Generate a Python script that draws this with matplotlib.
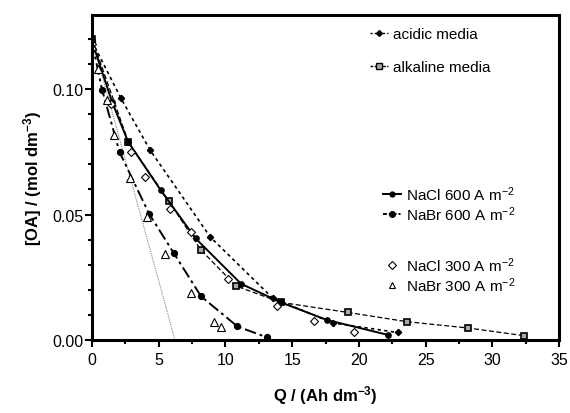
import matplotlib
matplotlib.use("Agg")
import matplotlib.pyplot as plt
from matplotlib.lines import Line2D
from matplotlib.ticker import MultipleLocator

plt.rcParams['font.family'] = ['Liberation Sans', 'DejaVu Sans']
plt.rcParams['mathtext.default'] = 'regular'

# Data
acid_q = [0, 2.15, 4.35, 8.87, 13.54, 18.04, 22.9]
acid_c = [0.119, 0.0965, 0.0757, 0.041, 0.0167, 0.0068, 0.003]

alk_q = [0, 2.72, 5.77, 8.16, 10.8, 14.15, 19.17, 23.6, 28.16, 32.4]
alk_c = [0.120, 0.079, 0.0552, 0.0359, 0.0215, 0.015, 0.011, 0.0073, 0.0048, 0.0017]

nacl600_q = [0, 1.5, 2.7, 5.15, 7.76, 11.17, 14.15, 17.6, 22.2]
nacl600_c = [0.119, 0.095, 0.079, 0.0597, 0.0405, 0.0224, 0.015, 0.008, 0.002]

nabr600_q = [0, 0.75, 2.07, 4.28, 6.12, 8.17, 10.9, 13.14]
nabr600_c = [0.119, 0.0998, 0.0748, 0.0503, 0.0347, 0.0174, 0.0054, 0.001]

nacl300_q = [0, 1.4, 2.9, 3.97, 5.88, 7.4, 10.2, 13.9, 16.64, 19.6]
nacl300_c = [0.118, 0.094, 0.0748, 0.0648, 0.052, 0.043, 0.0244, 0.0137, 0.0077, 0.0033]

nabr300_q = [0, 0.45, 1.15, 1.68, 2.82, 4.1, 5.47, 7.42, 9.16, 9.67]
nabr300_c = [0.117, 0.108, 0.0955, 0.0815, 0.0645, 0.049, 0.0342, 0.0186, 0.0072, 0.0053]

theo_q = [0, 6.22]
theo_c = [0.120, 0.0]

fig = plt.figure(figsize=(5.7, 4.14), dpi=100)
ax = fig.add_axes([92/570, 73/414, (559-92)/570, (341-16)/414])

acid_ls = (0, (2, 2))
alk_ls = (0, (4, 2))
nabr_ls = (0, (6, 2, 1.5, 2))

ax.plot(theo_q, theo_c, color='#888888', lw=0.8, ls=(0, (1, 1)))
ax.plot(acid_q, acid_c, color='black', lw=1.2, ls=acid_ls, marker='D', ms=3.2)
ax.plot(alk_q, alk_c, color='black', lw=0.9, ls=alk_ls, marker='s', ms=5,
        mfc='#aaaaaa', mec='black', mew=1.2)
ax.plot(nacl600_q, nacl600_c, color='black', lw=1.4, ls='-', marker='o', ms=3.8)
ax.plot(nabr600_q, nabr600_c, color='black', lw=1.4, ls=nabr_ls, marker='o', ms=4.2)
ax.plot(nacl300_q, nacl300_c, ls='none', marker='D', ms=4.5, mfc='white', mec='black', mew=0.8)
ax.plot(nabr300_q, nabr300_c, ls='none', marker='^', ms=5.5, mfc='white', mec='black', mew=0.8)

ax.set_xlim(0, 35)
ax.set_ylim(0, 0.1295)
ax.xaxis.set_major_locator(MultipleLocator(5))
ax.xaxis.set_minor_locator(MultipleLocator(2.5))
ax.yaxis.set_major_locator(MultipleLocator(0.05))
ax.yaxis.set_minor_locator(MultipleLocator(0.01))
ax.yaxis.set_major_formatter(plt.FuncFormatter(lambda v, p: f"{v:.2f}"))
ax.tick_params(which='major', direction='out', length=5, width=1.5, labelsize=11.5, colors='black')
ax.tick_params(which='minor', direction='out', length=3, width=1.5)
ax.tick_params(axis='y', which='major', pad=1)
for s in ax.spines.values():
    s.set_linewidth(2.2)

ax.set_xlabel('Q / (Ah dm$^{-3}$)', fontsize=12, fontweight='bold', labelpad=12)
ax.set_ylabel('[OA] / (mol dm$^{-3}$)', fontsize=12, fontweight='bold', labelpad=6)

lkw = dict(frameon=False, fontsize=11, handlelength=1.2, handletextpad=0.3,
           borderaxespad=0, borderpad=0)

h1 = [Line2D([], [], color='black', lw=1.0, ls=(0, (1.5, 1.5)), marker='D', ms=3)]
leg1 = ax.legend(h1, ['acidic media'], loc='upper left',
                 bbox_to_anchor=((370-92)/467, (341-28)/325), **lkw)
ax.add_artist(leg1)
h2 = [Line2D([], [], color='black', lw=1.0, ls=(0, (2, 1)), marker='s', ms=5,
             mfc='#aaaaaa', mec='black')]
leg2 = ax.legend(h2, ['alkaline media'], loc='upper left',
                 bbox_to_anchor=((370-92)/467, (341-61)/325), **lkw)
ax.add_artist(leg2)
h3 = [Line2D([], [], color='black', lw=1.4, ls='-', marker='o', ms=3.5),
      Line2D([], [], color='black', lw=1.4, ls=(0, (2, 1, 1, 1)), marker='o', ms=4)]
leg3 = ax.legend(h3, ['NaCl 600 A m$^{-2}$', 'NaBr 600 A m$^{-2}$'], loc='upper left',
                 bbox_to_anchor=((383-92)/467, (341-185)/325), labelspacing=0.1, **lkw)
ax.add_artist(leg3)
h4 = [Line2D([], [], ls='none', marker='D', ms=4, mfc='white', mec='black', mew=0.8),
      Line2D([], [], ls='none', marker='^', ms=5, mfc='white', mec='black', mew=0.8)]
leg4 = ax.legend(h4, ['NaCl 300 A m$^{-2}$', 'NaBr 300 A m$^{-2}$'], loc='upper left',
                 bbox_to_anchor=((383-92)/467, (341-256)/325), labelspacing=0.1, **lkw)

fig.savefig('out.png', dpi=100)
